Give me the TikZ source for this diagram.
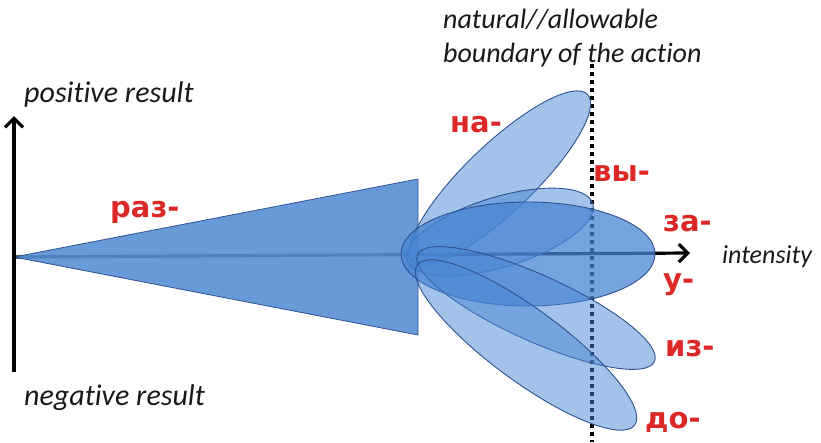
\documentclass[tikz,border=0pt]{standalone}
\usepackage{fontspec}
\setmainfont[Ligatures=NoCommon]{Carlito}
\newfontfamily\prefixfont{DejaVu Sans}
\usetikzlibrary{arrows.meta,shapes.geometric}

\definecolor{petalblue}{RGB}{72,133,211}
\definecolor{triblue}{RGB}{88,143,213}
\definecolor{edgeblue}{RGB}{47,82,143}
\definecolor{prefixred}{RGB}{221,40,40}
\definecolor{captiongray}{RGB}{25,25,25}

\tikzset{
  petal/.style={ellipse, draw=edgeblue, line width=0.9pt, fill=petalblue,
    fill opacity=0.5, inner sep=0pt},
  prefixtext/.style={anchor=base west, inner sep=0pt, text=prefixred,
    font=\prefixfont\bfseries\fontsize{29}{30}\selectfont},
  captiontext/.style={anchor=base west, inner sep=0pt, text=captiongray,
    font=\itshape\fontsize{30}{34}\selectfont},
  axisarrow/.style={line width=3.2pt, -{Straight Barb[length=9pt,width=18pt]}},
  boundaryline/.style={line width=3.5pt, dash pattern=on 4pt off 4pt},
}

\begin{document}
\begin{tikzpicture}[x=1pt,y=-1pt]
  \useasboundingbox (0,0) rectangle (821,442);

  \coordinate (origin) at (14,257);
  \coordinate (intEnd) at (690,253);
  \coordinate (posEnd) at (14,116);
  \coordinate (negEnd) at (14,372);
  \coordinate (bndTop) at (592,64);
  \coordinate (bndBot) at (592,442);
  \coordinate (triTop) at (418,179);
  \coordinate (triBot) at (418,335);

  \draw[axisarrow] (origin) -- (intEnd);
  \draw[boundaryline] (bndTop) -- (bndBot);
  \draw[draw=edgeblue, line width=0.8pt, fill=triblue, fill opacity=0.9]
    (origin) -- (triTop) -- (triBot) -- cycle;
  \draw[axisarrow] (negEnd) -- (posEnd);

  \node[petal, minimum width=242pt, minimum height=68pt, rotate=43.7] (petalNa) at (500,178) {};
  \node[petal, minimum width=194pt, minimum height=70pt, rotate=17] (petalVy) at (500,232) {};
  \node[petal, fill opacity=0.75, minimum width=254pt, minimum height=104pt] (petalZa) at (528,254) {};
  \node[petal, minimum width=260pt, minimum height=66pt, rotate=-24.3] (petalIz) at (536,308) {};
  \node[petal, minimum width=270pt, minimum height=72pt, rotate=-36.4] (petalDo) at (526,345) {};

  \node[prefixtext] (razLabel) at (110,217) {раз-};
  \node[prefixtext] (naLabel) at (450,132) {на-};
  \node[prefixtext] (vyLabel) at (593,181) {вы-};
  \node[prefixtext] (zaLabel) at (663,231) {за-};
  \node[prefixtext] (uLabel) at (663,289) {у-};
  \node[prefixtext] (izLabel) at (665,356) {из-};
  \node[prefixtext] (doLabel) at (645,428) {до-};

  \node[captiontext] (posLabel) at (24,102) {positive result};
  \node[captiontext] (negLabel) at (24,405) {negative result};
  \node[captiontext, font=\itshape\fontsize{26}{30}\selectfont] (intLabel) at (722,263) {intensity};
  \node[captiontext, font=\itshape\fontsize{28}{34}\selectfont] (bndLabelA) at (443,28) {natural//allowable};
  \node[captiontext, font=\itshape\fontsize{28}{34}\selectfont] (bndLabelB) at (443,62) {boundary of the action};
\end{tikzpicture}
\end{document}
